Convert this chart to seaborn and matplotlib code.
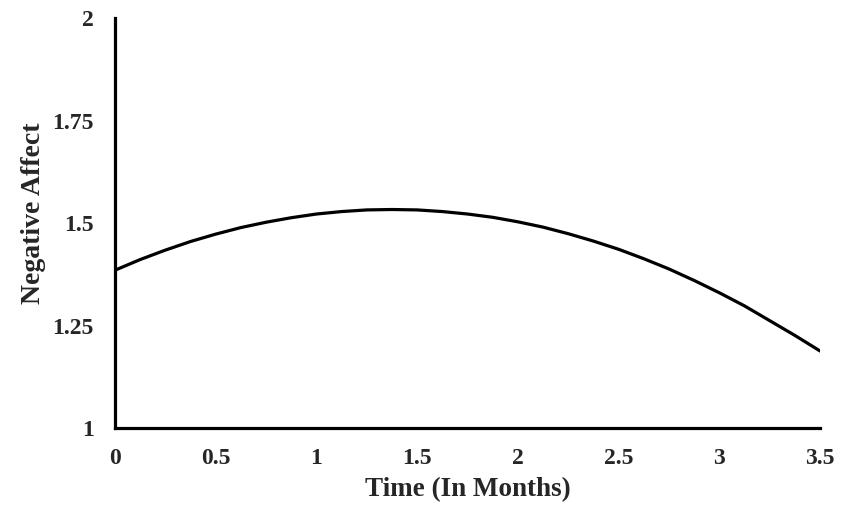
import matplotlib
matplotlib.use('Agg')
import matplotlib.pyplot as plt
import seaborn as sns
import pandas as pd

# values
time_months = [0, 0.125, 0.25, 0.375, 0.5, 0.625, 0.75, 0.875, 1.0, 1.125, 1.25, 1.375,
               1.5, 1.625, 1.75, 1.875, 2.0, 2.125, 2.25, 2.375, 2.5, 2.625, 2.75,
               2.875, 3.0, 3.125, 3.25, 3.375, 3.5]
negative_affect = [1.385, 1.411, 1.434, 1.455, 1.473, 1.489, 1.502, 1.513, 1.522, 1.528,
                   1.532, 1.533, 1.532, 1.528, 1.522, 1.514, 1.503, 1.490, 1.474, 1.456,
                   1.436, 1.413, 1.388, 1.360, 1.330, 1.298, 1.262, 1.226, 1.188]

x_ticks = [0, 0.5, 1, 1.5, 2, 2.5, 3, 3.5]
x_tick_labels = ['0', '0.5', '1', '1.5', '2', '2.5', '3', '3.5']
y_ticks = [1, 1.25, 1.5, 1.75, 2]
y_tick_labels = ['1', '1.25', '1.5', '1.75', '2']

df = pd.DataFrame({'time': time_months, 'na': negative_affect})

sns.set_theme(style='white')
plt.rcParams['font.family'] = ['Liberation Serif', 'DejaVu Serif']
plt.rcParams['font.weight'] = 'bold'

fig = plt.figure(figsize=(8.44, 5.09), dpi=100)
ax = fig.add_axes([0.1363, 0.159, 0.8353, 0.8056])

sns.lineplot(data=df, x='time', y='na', color='black', linewidth=2.3, ax=ax)

ax.set_xlim(0, 3.5)
ax.set_ylim(1, 2)
ax.set_xticks(x_ticks)
ax.set_xticklabels(x_tick_labels, fontsize=17, fontweight='bold')
ax.set_yticks(y_ticks)
ax.set_yticklabels(y_tick_labels, fontsize=17, fontweight='bold')
ax.tick_params(axis='x', length=0, pad=14.5)
ax.tick_params(axis='y', length=0, pad=15.5)

ax.set_xlabel('Time (In Months)', fontsize=19.5, fontweight='bold', labelpad=6)
ax.set_ylabel('Negative Affect', fontsize=20, fontweight='bold', labelpad=4)
ax.yaxis.label.set_y(0.524)

for side in ['top', 'right']:
    ax.spines[side].set_visible(False)
for side in ['left', 'bottom']:
    ax.spines[side].set_color('black')
    ax.spines[side].set_linewidth(2.3)

fig.savefig('out.png', dpi=100)
plt.close(fig)
